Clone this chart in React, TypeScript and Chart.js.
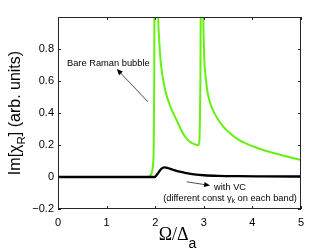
import React, { useEffect, useRef } from "react";
import { Chart, registerables } from "chart.js";

Chart.register(...registerables);

// ---- data ----
const omegaBare = [
  0, 1.5, 1.84, 1.88, 1.92, 1.95, 1.97, 1.98, 1.99, 2.03, 2.06, 2.085, 2.11, 2.135, 2.16, 2.19,
  2.22, 2.3, 2.37, 2.44, 2.55, 2.65, 2.75, 2.84, 2.89, 2.91, 2.92, 2.93, 2.94, 2.98, 2.99,
  3.0, 3.01, 3.04, 3.08, 3.14, 3.2, 3.3, 3.4, 3.5, 3.68, 3.9, 4.19, 4.5, 4.75, 5,
];
const bareBubble = [
  0, 0, 0, 0.005, 0.02, 0.06, 0.2, 0.6, 1.5, 1.5, 1.0, 0.84, 0.73, 0.665, 0.615, 0.565, 0.525,
  0.45, 0.4, 0.356, 0.285, 0.238, 0.213, 0.202, 0.2, 0.23, 0.35, 0.6, 1.2, 1.5, 1.0, 0.84,
  0.73, 0.62, 0.525, 0.455, 0.41, 0.356, 0.315, 0.285, 0.24, 0.205, 0.172, 0.145, 0.125, 0.106,
];
const omegaVC = [
  0, 1.97, 2.0, 2.05, 2.1, 2.15, 2.2, 2.25, 2.35, 2.5, 2.65, 2.8, 3.0, 3.3, 3.7, 4.2, 5,
];
const withVC = [
  0, 0, 0.002, 0.02, 0.042, 0.057, 0.06, 0.057, 0.047, 0.033, 0.024, 0.017, 0.011, 0.007,
  0.005, 0.004, 0.003,
];
const xTickValues = [0, 1, 2, 3, 4, 5];
const yTickValues = [-0.2, 0, 0.2, 0.4, 0.6, 0.8, 1];
const yTickLabels = ["\u22120.2", "0", "0.2", "0.4", "0.6", "0.8", ""];

const SANS = '"Liberation Sans", Arial, Helvetica, sans-serif';
const SERIF = '"Liberation Serif", "Times New Roman", serif';

type Piece = { t: string; font: string; dy: number };

function drawPieces(ctx: CanvasRenderingContext2D, pieces: Piece[], cx: number, y: number) {
  let total = 0;
  const widths = pieces.map((p) => {
    ctx.font = p.font;
    const w = ctx.measureText(p.t).width;
    total += w;
    return w;
  });
  let x = cx - total / 2;
  pieces.forEach((p, i) => {
    ctx.font = p.font;
    ctx.fillText(p.t, x, y + p.dy);
    x += widths[i];
  });
}

function arrow(ctx: CanvasRenderingContext2D, x1: number, y1: number, x2: number, y2: number) {
  const ang = Math.atan2(y2 - y1, x2 - x1);
  const L = 6;
  const W = 2.6;
  ctx.beginPath();
  ctx.moveTo(x1, y1);
  ctx.lineTo(x2 - L * Math.cos(ang) * 0.8, y2 - L * Math.sin(ang) * 0.8);
  ctx.stroke();
  ctx.beginPath();
  ctx.moveTo(x2, y2);
  ctx.lineTo(x2 - L * Math.cos(ang) + W * Math.sin(ang), y2 - L * Math.sin(ang) - W * Math.cos(ang));
  ctx.lineTo(x2 - L * Math.cos(ang) - W * Math.sin(ang), y2 - L * Math.sin(ang) + W * Math.cos(ang));
  ctx.closePath();
  ctx.fill();
}

const decorPlugin = {
  id: "decor",
  afterDraw(chart: any) {
    const ctx: CanvasRenderingContext2D = chart.ctx;
    const { left, right, top, bottom } = chart.chartArea;
    const xs = chart.scales.x;
    const ys = chart.scales.y;
    ctx.save();
    ctx.strokeStyle = "#262626";
    ctx.lineWidth = 1;
    ctx.strokeRect(left + 0.5, top + 0.5, right - left - 1, bottom - top - 1);
    ctx.beginPath();
    xTickValues.forEach((v) => {
      const px = Math.round(xs.getPixelForValue(v)) + 0.5;
      ctx.moveTo(px, bottom);
      ctx.lineTo(px, bottom - 3);
      ctx.moveTo(px, top);
      ctx.lineTo(px, top + 3);
    });
    yTickValues.forEach((v) => {
      const py = Math.round(ys.getPixelForValue(v)) + 0.5;
      ctx.moveTo(left, py);
      ctx.lineTo(left + 3, py);
      ctx.moveTo(right, py);
      ctx.lineTo(right - 3, py);
    });
    ctx.stroke();

    // annotations
    ctx.fillStyle = "#000";
    ctx.strokeStyle = "#222";
    ctx.lineWidth = 0.8;
    ctx.textBaseline = "middle";
    ctx.textAlign = "left";
    ctx.font = `9.3px ${SANS}`;
    ctx.fillText("Bare Raman bubble", xs.getPixelForValue(0.185), ys.getPixelForValue(0.71));
    arrow(ctx, xs.getPixelForValue(1.85), ys.getPixelForValue(0.47), xs.getPixelForValue(1.21), ys.getPixelForValue(0.675));
    arrow(ctx, xs.getPixelForValue(2.65), ys.getPixelForValue(-0.03), xs.getPixelForValue(3.13), ys.getPixelForValue(-0.053));
    const cx = xs.getPixelForValue(3.54);
    drawPieces(ctx, [{ t: "with VC", font: `9.3px ${SANS}`, dy: 0 }], cx, ys.getPixelForValue(-0.063));
    drawPieces(
      ctx,
      [
        { t: "(different const \u03b3", font: `9.3px ${SANS}`, dy: 0 },
        { t: "k", font: `6.5px ${SANS}`, dy: 3 },
        { t: " on each band)", font: `9.3px ${SANS}`, dy: 0 },
      ],
      cx,
      ys.getPixelForValue(-0.133)
    );

    // x title
    ctx.textBaseline = "alphabetic";
    drawPieces(
      ctx,
      [
        { t: "\u03a9/\u0394", font: `18px ${SERIF}`, dy: 0 },
        { t: "a", font: `14px ${SANS}`, dy: 8 },
      ],
      (left + right) / 2 - 2,
      240
    );

    // y title
    ctx.save();
    ctx.translate(19.5, (top + bottom) / 2);
    ctx.rotate(-Math.PI / 2);
    drawPieces(
      ctx,
      [
        { t: "Im[\u03c7", font: `16px ${SANS}`, dy: 0 },
        { t: "R", font: `11.5px ${SANS}`, dy: 5 },
        { t: "] (arb. units)", font: `16px ${SANS}`, dy: 0 },
      ],
      0,
      0
    );
    ctx.restore();
    ctx.restore();
  },
};

export default function App() {
  const ref = useRef<HTMLCanvasElement | null>(null);
  useEffect(() => {
    document.body.style.margin = "0";
    if (!ref.current) return;
    const chart = new Chart(ref.current, {
      type: "line",
      data: {
        datasets: [
          {
            label: "with VC",
            data: omegaVC.map((x, i) => ({ x, y: withVC[i] })),
            borderColor: "#000000",
            borderWidth: 2.3,
            pointRadius: 0,
            cubicInterpolationMode: "monotone",
            order: 0,
          },
          {
            label: "Bare Raman bubble",
            data: omegaBare.map((x, i) => ({ x, y: bareBubble[i] })),
            borderColor: "#66f011",
            borderWidth: 2,
            pointRadius: 0,
            cubicInterpolationMode: "monotone",
            order: 1,
            clip: 0,
          },
        ],
      },
      options: {
        animation: false,
        responsive: false,
        devicePixelRatio: 1,
        layout: { padding: { left: 0, right: 31, top: 17, bottom: 0 } },
        plugins: { legend: { display: false }, tooltip: { enabled: false } },
        scales: {
          x: {
            type: "linear",
            min: 0,
            max: 5,
            afterBuildTicks: (s: any) => {
              s.ticks = xTickValues.map((v) => ({ value: v }));
            },
            afterFit: (s: any) => {
              s.height = 41;
            },
            grid: { display: false, drawTicks: false },
            border: { display: false },
            ticks: {
              padding: 7,
              maxRotation: 0,
              color: "#000",
              font: { family: SANS, size: 11 },
              callback: (v: any) => String(v),
            },
          },
          y: {
            type: "linear",
            min: -0.2,
            max: 1,
            afterBuildTicks: (s: any) => {
              s.ticks = yTickValues.map((v) => ({ value: v }));
            },
            afterFit: (s: any) => {
              s.width = 58;
            },
            grid: { display: false, drawTicks: false },
            border: { display: false },
            ticks: {
              padding: 4,
              color: "#000",
              font: { family: SANS, size: 11 },
              callback: (_v: any, i: number) => yTickLabels[i],
            },
          },
        },
      },
      plugins: [decorPlugin],
    } as any);
    return () => chart.destroy();
  }, []);
  return (
    <div style={{ position: "absolute", left: 0, top: 0, width: 332, height: 250, background: "#fff" }}>
      <canvas ref={ref} width={332} height={250} style={{ width: 332, height: 250 }} />
    </div>
  );
}
